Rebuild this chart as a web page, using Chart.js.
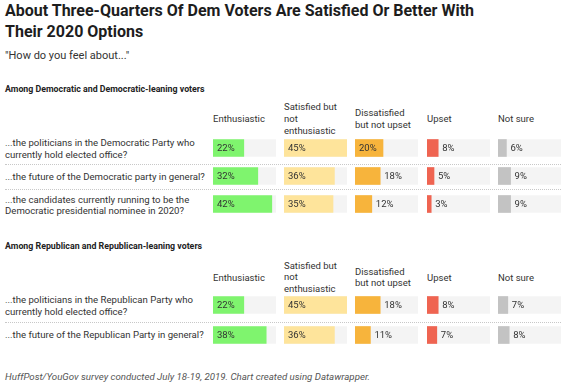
<!DOCTYPE html>
<html>
<head>
<meta charset="utf-8">
<script src="https://cdn.jsdelivr.net/npm/chart.js@4"></script>
<style>
  html, body { margin:0; padding:0; background:#fff; }
  body { width:571px; height:384px; position:relative; overflow:hidden; font-family: Roboto, "Noto Sans", sans-serif; color:#333; }
  .abs { position:absolute; white-space:nowrap; }
  .title { left:5px; top:1px; font-size:16px; line-height:20.5px; font-weight:700; color:#1d1d1d; }
  .sub { left:5px; top:49px; font-size:11px; line-height:14px; color:#333; }
  .sec { left:5px; font-size:8.8px; line-height:12px; font-weight:700; color:#222; }
  .hdr { font-size:9.5px; line-height:11.7px; color:#333; transform:translateY(-50%); }
  .lbl { left:5px; font-size:9.6px; line-height:11.5px; color:#333; transform:translateY(-50%); }
  .sep { left:5px; width:556px; height:0; border-top:1px dotted #c8c8c8; }
  .foot { left:5px; top:371px; font-size:9.7px; line-height:12px; font-style:italic; color:#555; }
  canvas { position:absolute; }
</style>
</head>
<body>
<div class="abs title">About Three-Quarters Of Dem Voters Are Satisfied Or Better With<br>Their 2020 Options</div>
<div class="abs sub">"How do you feel about..."</div>
<div id="root"></div>
<div class="abs foot">HuffPost/YouGov survey conducted July 18-19, 2019. Chart created using Datawrapper.</div>
<script>
// ---- data ----
const categories = [["Enthusiastic"], ["Satisfied but", "not", "enthusiastic"], ["Dissatisfied", "but not upset"], ["Upset"], ["Not sure"]];
const categoryColors = ["#7ff46e", "#fee49b", "#f7b43c", "#ef6451", "#c3c3c3"];

const demTitle = "Among Democratic and Democratic-leaning voters";
const demQuestions = [
  ["...the politicians in the Democratic Party who", "currently hold elected office?"],
  ["...the future of the Democratic party in general?"],
  ["...the candidates currently running to be the", "Democratic presidential nominee in 2020?"]
];
const demEnthusiastic  = [22, 32, 42];
const demSatisfied     = [45, 36, 35];
const demDissatisfied  = [20, 18, 12];
const demUpset         = [8, 5, 3];
const demNotSure       = [6, 9, 9];

const repTitle = "Among Republican and Republican-leaning voters";
const repQuestions = [
  ["...the politicians in the Republican Party who", "currently hold elected office?"],
  ["...the future of the Republican Party in general?"]
];
const repEnthusiastic  = [22, 38];
const repSatisfied     = [45, 36];
const repDissatisfied  = [18, 11];
const repUpset         = [8, 7];
const repNotSure       = [7, 8];

const scaleMax = Math.max(...demEnthusiastic, ...demSatisfied, ...demDissatisfied, ...demUpset, ...demNotSure,
                          ...repEnthusiastic, ...repSatisfied, ...repDissatisfied, ...repUpset, ...repNotSure);

// ---- layout ----
const colX = [213, 284, 355, 427, 498];
const colW = 63;
const panels = [
  { title: demTitle, titleY: 83, hdrY: 119.3, questions: demQuestions,
    series: [demEnthusiastic, demSatisfied, demDissatisfied, demUpset, demNotSure],
    top: 134, rowH: 28, labelY: [148, 177, 204.5], seps: [164, 189] },
  { title: repTitle, titleY: 240, hdrY: 277.5, questions: repQuestions,
    series: [repEnthusiastic, repSatisfied, repDissatisfied, repUpset, repNotSure],
    top: 290, rowH: 30, labelY: [305, 335], seps: [322] }
];

const labelPlugin = {
  id: 'valueLabels',
  afterDatasetsDraw(chart) {
    const ctx = chart.ctx;
    const meta = chart.getDatasetMeta(0);
    const ds = chart.data.datasets[0];
    ctx.save();
    ctx.font = '9.5px Roboto';
    ctx.fillStyle = '#333';
    ctx.textBaseline = 'middle';
    ctx.textAlign = 'left';
    meta.data.forEach((bar, i) => {
      const txt = ds.data[i] + '%';
      const tw = ctx.measureText(txt).width;
      const w = bar.x - bar.base;
      const x = (tw + 8 <= w) ? bar.base + 4 : bar.x + 4;
      ctx.fillText(txt, x, bar.y + 0.5);
    });
    ctx.restore();
  }
};

const root = document.getElementById('root');
function addDiv(cls, html, left, top) {
  const d = document.createElement('div');
  d.className = 'abs ' + cls;
  d.innerHTML = html;
  if (left !== null) d.style.left = left + 'px';
  d.style.top = top + 'px';
  root.appendChild(d);
  return d;
}

panels.forEach(p => {
  addDiv('sec', p.title, null, p.titleY);
  categories.forEach((c, j) => addDiv('hdr', c.join('<br>'), colX[j], p.hdrY));
  p.questions.forEach((q, i) => addDiv('lbl', q.join('<br>'), null, p.labelY[i]));
  p.seps.forEach(y => addDiv('sep', '', null, y));
  const h = p.rowH * p.questions.length;
  p.series.forEach((vals, j) => {
    const cv = document.createElement('canvas');
    cv.width = colW; cv.height = h;
    cv.style.left = colX[j] + 'px'; cv.style.top = p.top + 'px';
    cv.style.width = colW + 'px'; cv.style.height = h + 'px';
    root.appendChild(cv);
    new Chart(cv, {
      type: 'bar',
      data: {
        labels: p.questions.map(q => q.join(' ')),
        datasets: [
          { data: vals, backgroundColor: categoryColors[j], barThickness: 17, grouped: false, order: 1 },
          { data: vals.map(() => scaleMax), backgroundColor: '#f4f4f4', barThickness: 17, grouped: false, order: 2 }
        ]
      },
      options: {
        indexAxis: 'y', responsive: false, animation: false, events: [],
        devicePixelRatio: 1,
        layout: { padding: 0 },
        scales: {
          x: { display: false, min: 0, max: scaleMax },
          y: { display: false }
        },
        plugins: { legend: { display: false }, tooltip: { enabled: false } }
      },
      plugins: [labelPlugin]
    });
  });
});
</script>
</body>
</html>
